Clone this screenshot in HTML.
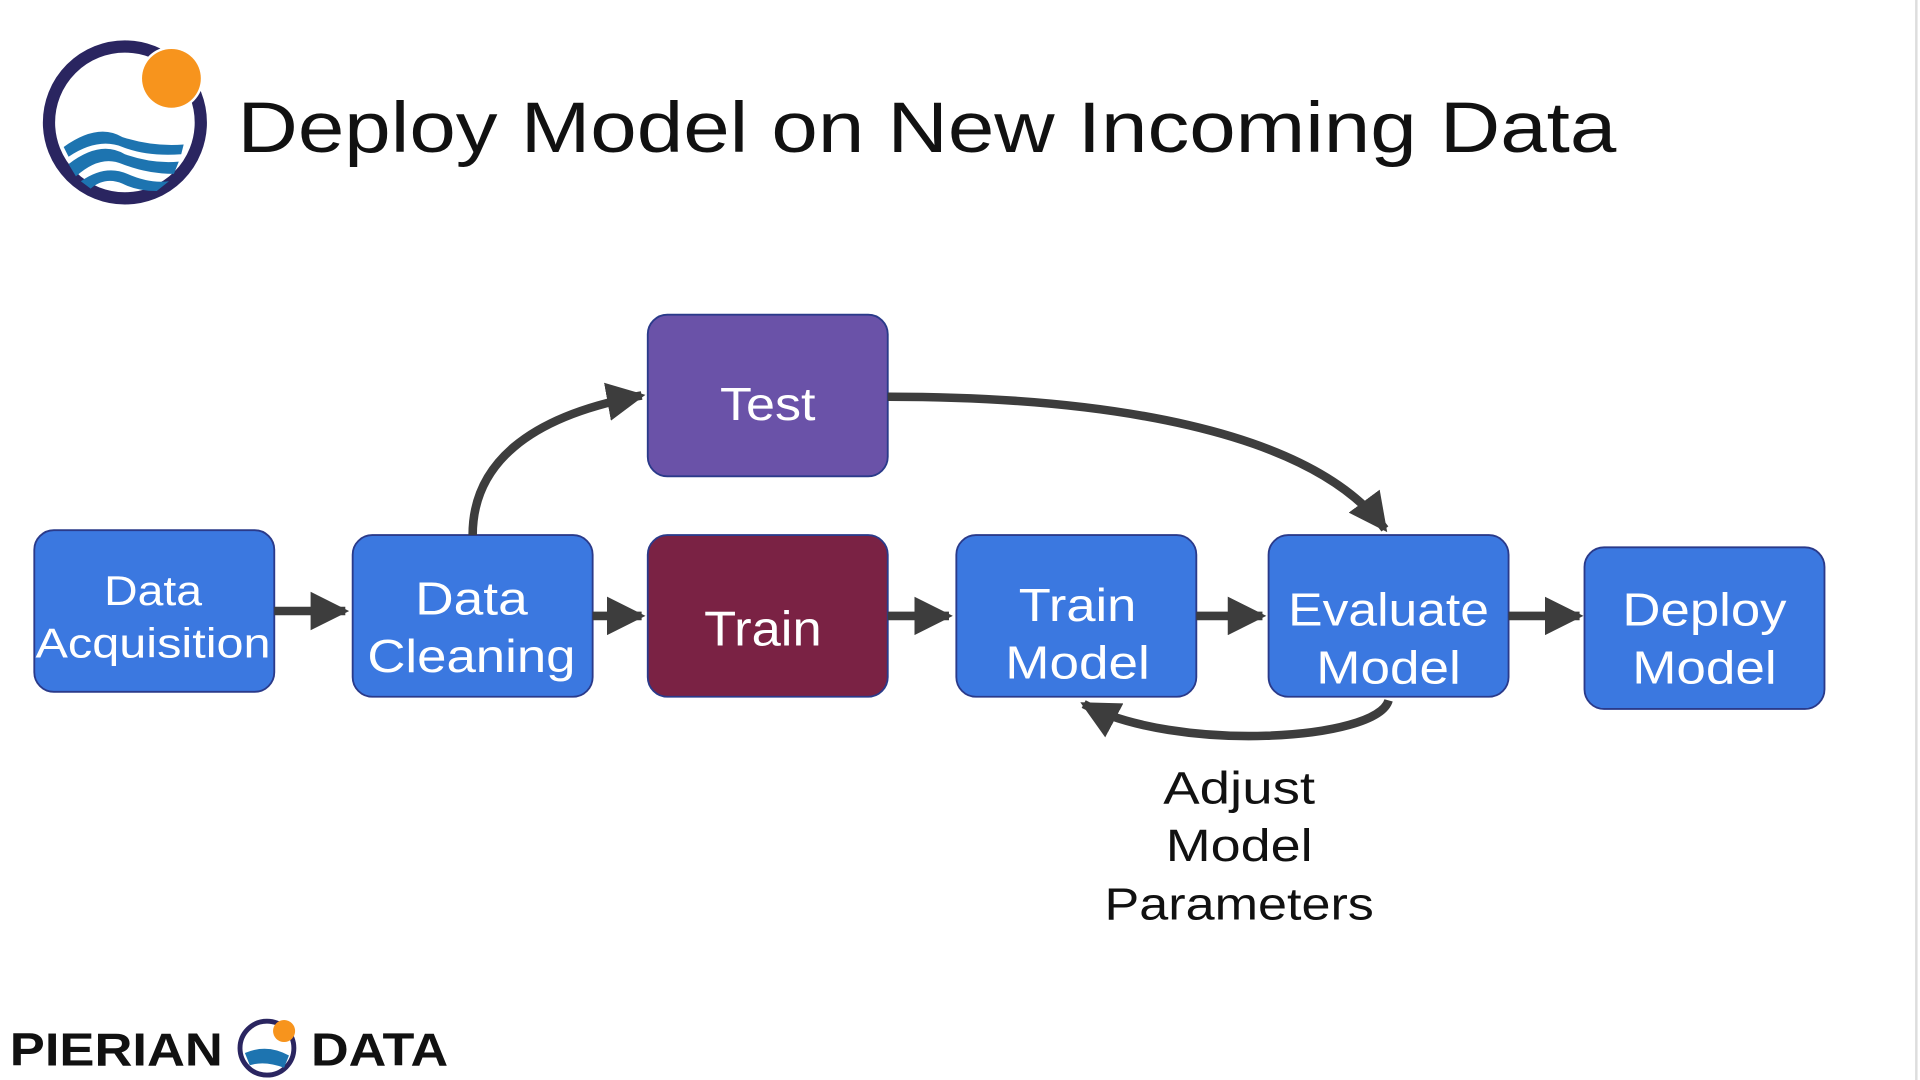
<!DOCTYPE html>
<html><head><meta charset="utf-8"><style>
html,body{margin:0;padding:0;background:#fff;width:1920px;height:1080px;overflow:hidden}
svg{display:block}
text{font-family:"Liberation Sans",sans-serif}
</style></head><body>
<svg width="1920" height="1080" viewBox="0 0 1568 882" xmlns="http://www.w3.org/2000/svg">
<defs>
<marker id="ah" viewBox="0 0 10 10" refX="9" refY="5" markerWidth="4.5" markerHeight="4.5" orient="auto" markerUnits="strokeWidth">
<path d="M0,0 L10,5 L0,10 z" fill="#3d3d3d"/></marker>
</defs>
<rect width="1568" height="882" fill="#fff"/>
<line x1="1565" y1="0" x2="1565" y2="882" stroke="#ddd" stroke-width="2"/>
<circle cx="102" cy="100" r="62" fill="none" stroke="#2a2560" stroke-width="10"/>
<circle cx="140" cy="64" r="26" fill="#fff"/>
<circle cx="140" cy="64" r="24" fill="#f7941d"/>
<path d="M52,120 Q80,100 100,112 Q125,120 150,118 L148,126 Q120,128 100,120 Q80,112 56,128z" fill="#1d74b0"/>
<path d="M56,134 Q82,114 102,126 Q125,134 146,132 L142,142 Q120,142 100,134 Q82,126 62,144z" fill="#1d74b0"/>
<path d="M66,148 Q86,134 104,142 Q122,150 138,148 L128,156 Q112,156 100,150 Q86,144 74,154z" fill="#1d74b0"/>
<text x="194" y="124" font-size="58" fill="#111" textLength="1126" lengthAdjust="spacingAndGlyphs">Deploy Model on New Incoming Data</text>
<g stroke="#2a3a8a" stroke-width="1.5">
<rect x="28" y="433" width="196" height="132" rx="16" fill="#3b78e0"/>
<rect x="288" y="437" width="196" height="132" rx="16" fill="#3b78e0"/>
<rect x="529" y="257" width="196" height="132" rx="16" fill="#6a52a8"/>
<rect x="529" y="437" width="196" height="132" rx="16" fill="#7a2244"/>
<rect x="781" y="437" width="196" height="132" rx="16" fill="#3b78e0"/>
<rect x="1036" y="437" width="196" height="132" rx="16" fill="#3b78e0"/>
<rect x="1294" y="447" width="196" height="132" rx="16" fill="#3b78e0"/>
</g>
<g fill="#fff" font-size="34" text-anchor="middle">
<text x="125" y="494" textLength="80" lengthAdjust="spacingAndGlyphs">Data</text>
<text x="125" y="537" textLength="192" lengthAdjust="spacingAndGlyphs">Acquisition</text>
<text x="385" y="502" font-size="38" textLength="92" lengthAdjust="spacingAndGlyphs">Data</text>
<text x="385" y="549" font-size="38" textLength="170" lengthAdjust="spacingAndGlyphs">Cleaning</text>
<text x="627" y="343" font-size="38" textLength="78" lengthAdjust="spacingAndGlyphs">Test</text>
<text x="623" y="527" font-size="40" textLength="96" lengthAdjust="spacingAndGlyphs">Train</text>
<text x="880" y="507" font-size="38" textLength="96" lengthAdjust="spacingAndGlyphs">Train</text>
<text x="880" y="554" font-size="38" textLength="118" lengthAdjust="spacingAndGlyphs">Model</text>
<text x="1134" y="511" font-size="38" textLength="164" lengthAdjust="spacingAndGlyphs">Evaluate</text>
<text x="1134" y="558" font-size="38" textLength="118" lengthAdjust="spacingAndGlyphs">Model</text>
<text x="1392" y="511" font-size="38" textLength="134" lengthAdjust="spacingAndGlyphs">Deploy</text>
<text x="1392" y="558" font-size="38" textLength="118" lengthAdjust="spacingAndGlyphs">Model</text>
</g>
<g stroke="#3d3d3d" stroke-width="7" fill="none" marker-end="url(#ah)">
<line x1="224" y1="499" x2="282" y2="499"/>
<line x1="484" y1="503" x2="524" y2="503"/>
<line x1="725" y1="503" x2="775" y2="503"/>
<line x1="977" y1="503" x2="1031" y2="503"/>
<line x1="1232" y1="503" x2="1290" y2="503"/>
<path d="M386,437 C386,380 430,340 524,323"/>
<path d="M725,324 C900,324 1070,350 1131,432"/>
<path d="M1134,572 C1125,605 960,615 885,575"/>
</g>
<g font-size="37" text-anchor="middle" fill="#111">
<text x="1012" y="656" textLength="124" lengthAdjust="spacingAndGlyphs">Adjust</text>
<text x="1012" y="703" textLength="120" lengthAdjust="spacingAndGlyphs">Model</text>
<text x="1012" y="751" textLength="220" lengthAdjust="spacingAndGlyphs">Parameters</text>
</g>
<text x="8" y="870" font-size="38" font-weight="bold" fill="#111" textLength="174" lengthAdjust="spacingAndGlyphs">PIERIAN</text>
<circle cx="218" cy="856" r="22" fill="none" stroke="#2a2560" stroke-width="4"/>
<circle cx="232" cy="842" r="9" fill="#f7941d"/>
<path d="M200,860 Q218,852 236,862 L232,872 Q216,866 204,870z" fill="#1d74b0"/>
<text x="254" y="870" font-size="38" font-weight="bold" fill="#111" textLength="112" lengthAdjust="spacingAndGlyphs">DATA</text>
</svg>
</body></html>
